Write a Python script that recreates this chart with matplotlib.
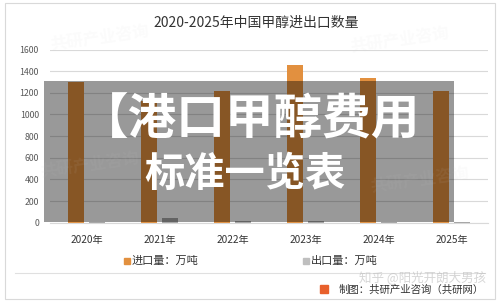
import matplotlib
matplotlib.use("Agg")
import matplotlib.pyplot as plt
from matplotlib.patches import Rectangle
import numpy as np

plt.rcParams['font.family'] = ['Noto Sans CJK SC', 'DejaVu Sans']

years = ["2020年", "2021年", "2022年", "2023年", "2024年", "2025年"]
imports = [1300, 1120, 1217, 1457, 1340, 1220]
exports = [10, 40, 18, 13, 10, 6]
yticks = [0, 200, 400, 600, 800, 1000, 1200, 1400, 1600]
title = "2020-2025年中国甲醇进出口数量"
legend_labels = ["进口量：万吨", "出口量：万吨"]

W, H = 500, 303
fig = plt.figure(figsize=(W / 100, H / 100), dpi=100)
fig.patch.set_facecolor('white')

def fx(px):
    return px / W

def fy(py):
    return 1 - py / H

# outer frame
fig.add_artist(Rectangle((fx(5), fy(299)), fx(490), 296 / H, transform=fig.transFigure,
                         fill=False, edgecolor='#D9D9D9', lw=0.8))

ax = fig.add_axes([fx(50), fy(222.7), fx(438), (222.7 - 49.5) / H])
x = np.arange(len(years))
bw = 0.23
off = 0.145
ax.bar(x - off, imports, bw, color='#E2903F', zorder=2)
ax.bar(x + off, exports, bw, color='#A5A5A5', zorder=2)
ax.set_xlim(-0.5, len(years) - 0.5)
ax.set_ylim(0, 1600)
ax.set_yticks(yticks)
ax.set_yticklabels([str(v) for v in yticks], fontsize=6.3, color='#595959')
ax.set_xticks(x)
ax.set_xticklabels(years, fontsize=7.3, color='#333333')
ax.tick_params(length=0)
ax.tick_params(axis='x', pad=9)
ax.tick_params(axis='y', pad=8)
ax.grid(axis='y', color='#D9D9D9', lw=0.8, zorder=0)
for s in ['top', 'right', 'left']:
    ax.spines[s].set_visible(False)
ax.spines['bottom'].set_color('#D9D9D9')
ax.set_facecolor('none')

fig.text(fx(256), fy(23), title, ha='center', va='center', fontsize=10, color='#333333')

# legend
fig.add_artist(Rectangle((fx(124), fy(264)), fx(6), 6 / H, transform=fig.transFigure,
                         color='#E2903F'))
fig.text(fx(132), fy(261), legend_labels[0], ha='left', va='center', fontsize=8, color='#333333')
fig.add_artist(Rectangle((fx(303), fy(264)), fx(6), 6 / H, transform=fig.transFigure,
                         color='#BFBFBF'))
fig.text(fx(311), fy(261), legend_labels[1], ha='left', va='center', fontsize=8, color='#333333')

# separator and source
fig.add_artist(plt.Line2D([fx(15), fx(485)], [fy(273), fy(273)], transform=fig.transFigure,
                          color='#E0E0E0', lw=0.8))
fig.add_artist(Rectangle((fx(320), fy(293)), fx(8), 8 / H, transform=fig.transFigure,
                         color='#E8602C'))
fig.text(fx(484), fy(289.5), "制图：共研产业咨询（共研网）", ha='right', va='center',
         fontsize=7.5, color='#333333')
fig.text(fx(486), fy(277), "知乎 @阳光开朗大男孩", ha='right', va='center',
         fontsize=9, color='#BBBBBB', alpha=0.6)

# faint watermarks
for (wx, wy) in [(100, 38), (400, 40), (420, 180), (90, 165)]:
    fig.text(fx(wx), fy(wy), "共研产业咨询", ha='center', va='center', fontsize=12,
             color='#CCCCCC', alpha=0.08, rotation=8, fontweight='bold')

# dark overlay
fig.add_artist(Rectangle((fx(44), fy(222)), fx(410), 141 / H, transform=fig.transFigure,
                         color='black', alpha=0.4, lw=0))

fig.text(fx(250), fy(120), "【港口甲醇费用", ha='center', va='center', fontsize=35,
         color='white', fontweight='black')
fig.text(fx(245), fy(174), "标准一览表", ha='center', va='center', fontsize=29,
         color='white', fontweight='black')

fig.savefig("out.png", dpi=100)
